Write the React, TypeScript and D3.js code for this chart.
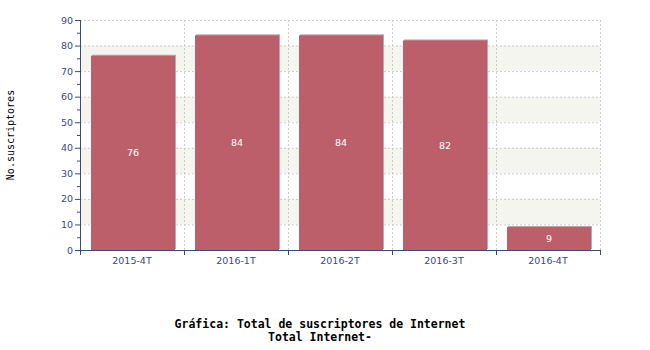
import React from "react";
import * as d3 from "d3";

const categories = ["2015-4T", "2016-1T", "2016-2T", "2016-3T", "2016-4T"];
const values = [76, 84, 84, 82, 9];
const yMajorTicks = [0, 10, 20, 30, 40, 50, 60, 70, 80, 90];
const yMinorTicks = [5, 15, 25, 35, 45, 55, 65, 75, 85];
const shadedBands = [[10, 20], [30, 40], [50, 60], [70, 80]];
const titleLines = ["Gráfica: Total de suscriptores de Internet", "Total Internet-"];
const yLabel = "No.suscriptores";

export default function App() {
  const W = 650, H = 350;
  const left = 80, right = 600, top = 20, bottom = 250;
  const x = d3.scaleBand<string>().domain(categories).range([left + 1, right + 1]).paddingInner(0.1923).paddingOuter(0.09615);
  const xb = d3.scaleBand<string>().domain(categories).range([left, right]);
  const y = d3.scaleLinear().domain([0, 90]).range([bottom, top]);
  const axisColor = "#3b4a78";
  const gridColor = "#cccccc";
  const sans = "DejaVu Sans, sans-serif";
  const mono = "DejaVu Sans Mono, monospace";

  return (
    <svg width={W} height={H} style={{ position: "absolute", left: 0, top: 0, background: "#fff" }}>
      {shadedBands.map(([a, b], i) => (
        <rect key={"b" + i} x={left} y={y(b)} width={right - left} height={y(a) - y(b)} fill="#f5f5f0" />
      ))}
      {yMajorTicks.filter((t) => t > 0).map((t) => (
        <line key={"gh" + t} x1={left} x2={right} y1={y(t) + 0.5} y2={y(t) + 0.5} stroke={gridColor} strokeDasharray="2,2" />
      ))}
      {categories.map((c) => (
        <line key={"gv" + c} x1={xb(c)! + xb.bandwidth() + 0.5} x2={xb(c)! + xb.bandwidth() + 0.5} y1={top} y2={bottom} stroke={gridColor} strokeDasharray="2,2" />
      ))}
      {categories.map((c, i) => (
        <g key={"bar" + c}>
          <rect x={x(c)! + 1} y={y(values[i]) - 1} width={x.bandwidth()} height={bottom - y(values[i])} fill="#bfa3a6" />
          <rect x={x(c)!} y={y(values[i])} width={x.bandwidth()} height={bottom - y(values[i])} fill="#bd5f6b" />
          <text x={x(c)! + x.bandwidth() / 2} y={(y(values[i]) + bottom) / 2} fill="#fff" fontFamily={sans} fontSize={9.5} textAnchor="middle" dominantBaseline="central">{values[i]}</text>
        </g>
      ))}
      {/* y axis */}
      <line x1={left + 0.5} x2={left + 0.5} y1={top} y2={bottom + 0.5} stroke={axisColor} />
      {yMajorTicks.map((t) => (
        <g key={"yt" + t}>
          <line x1={left - 5} x2={left} y1={y(t) + 0.5} y2={y(t) + 0.5} stroke={axisColor} />
          <text x={left - 7} y={y(t)} fill={axisColor} fontFamily={sans} fontSize={9.5} textAnchor="end" dominantBaseline="central">{t}</text>
        </g>
      ))}
      {yMinorTicks.map((t) => (
        <line key={"ym" + t} x1={left - 3} x2={left} y1={y(t) + 0.5} y2={y(t) + 0.5} stroke={axisColor} />
      ))}
      {/* x axis */}
      <line x1={left} x2={right + 1} y1={bottom + 0.5} y2={bottom + 0.5} stroke={axisColor} />
      {[left, ...categories.map((c) => xb(c)! + xb.bandwidth())].map((px, i) => (
        <line key={"xt" + i} x1={px + 0.5} x2={px + 0.5} y1={bottom} y2={bottom + 5} stroke={axisColor} />
      ))}
      {categories.map((c) => (
        <text key={"xl" + c} x={xb(c)! + xb.bandwidth() / 2} y={bottom + 10} fill={axisColor} fontFamily={sans} fontSize={9.5} textAnchor="middle" dominantBaseline="central">{c}</text>
      ))}
      <text transform={`translate(10,135) rotate(-90)`} fill="#000" fontFamily={mono} fontSize={10} textAnchor="middle" dominantBaseline="central">{yLabel}</text>
      {titleLines.map((t, i) => (
        <text key={"t" + i} x={320} y={324 + i * 13} fill="#000" fontFamily={mono} fontWeight="bold" fontSize={11.5} textAnchor="middle" dominantBaseline="central">{t}</text>
      ))}
    </svg>
  );
}
